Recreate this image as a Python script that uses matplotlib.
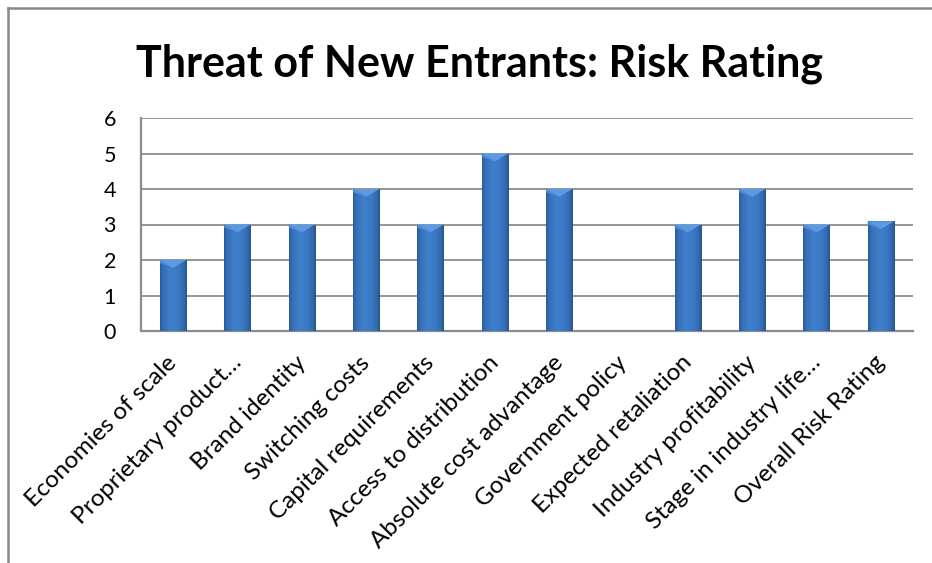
import numpy as np
import matplotlib
matplotlib.use("Agg")
import matplotlib.pyplot as plt
from matplotlib.patches import Polygon
from matplotlib.lines import Line2D
from matplotlib.colors import LinearSegmentedColormap
from matplotlib.transforms import ScaledTranslation

plt.rcParams['font.family'] = ['Lato', 'DejaVu Sans']

title = "Threat of New Entrants: Risk Rating"
categories = ["Economies of scale", "Proprietary product\u2026", "Brand identity",
              "Switching costs", "Capital requirements", "Access to distribution",
              "Absolute cost advantage", "Government policy", "Expected retaliation",
              "Industry profitability", "Stage in industry life\u2026", "Overall Risk Rating"]
values = [2, 3, 3, 4, 3, 5, 4, 0, 3, 4, 3, 3.09]
yticks = [0, 1, 2, 3, 4, 5, 6]

fig = plt.figure(figsize=(9.32, 5.63), dpi=100)
ax = fig.add_axes([141/932, 1 - 331/563, (913-141)/932, (331-118)/563])

x = np.arange(len(categories))
bw = 0.41
bars = ax.bar(x, values, width=bw, color="#3A74BE", zorder=2)

cmap = LinearSegmentedColormap.from_list("cyl", [
    (0.0, "#2B5B9C"), (0.12, "#3570B8"), (0.4, "#3F7FCB"),
    (0.7, "#3A78C3"), (0.9, "#3168AE"), (1.0, "#27548F")])
grad = np.linspace(0, 1, 64).reshape(1, -1)

ax.set_xlim(-0.5, len(categories) - 0.5)
ax.set_ylim(0, 6)

cap_h = 0.22
for b, v in zip(bars, values):
    if v <= 0:
        b.set_visible(False)
        continue
    x0, w, h = b.get_x(), b.get_width(), b.get_height()
    im = ax.imshow(grad, cmap=cmap, aspect="auto", extent=[x0, x0 + w, 0, h],
                   zorder=3, interpolation="bicubic")
    im.set_clip_path(b)
    tri = Polygon([[x0, h], [x0 + w, h], [x0 + w * 0.5, h - cap_h]],
                  closed=True, facecolor="#5C9BE3", edgecolor="none", zorder=4)
    ax.add_patch(tri)
    side = Polygon([[x0, h], [x0 + w * 0.5, h - cap_h], [x0, h - cap_h * 0.4]],
                   closed=True, facecolor="#4F8DD8", edgecolor="none", zorder=4)
    ax.add_patch(side)

ax.set_yticks(yticks)
ax.set_yticklabels([str(t) for t in yticks], fontsize=15.5)
ax.yaxis.grid(True, color="#8C8C8C", linewidth=1.3, zorder=1)
ax.set_axisbelow(True)
ax.tick_params(axis="y", length=0, pad=18)
ax.tick_params(axis="x", length=0, pad=15)
ax.set_xticks(x)
ax.set_xticklabels(categories, rotation=45, ha="right", va="top",
                   rotation_mode="anchor", fontsize=17.5)
shift = ScaledTranslation(-5/72, 0, fig.dpi_scale_trans)
for lbl in ax.get_xticklabels():
    lbl.set_transform(lbl.get_transform() + shift)
for s in ["top", "right"]:
    ax.spines[s].set_visible(False)
for s in ["left", "bottom"]:
    ax.spines[s].set_color("#8C8C8C")
    ax.spines[s].set_linewidth(1.6)

fig.text(0.515, 1 - 64/563, title, ha="center", va="center",
         fontsize=31, fontweight="bold")

fig.add_artist(Line2D([8/932, 8/932], [0, 1 - 8/563], transform=fig.transFigure,
                      color="#888888", linewidth=1.8))
fig.add_artist(Line2D([8/932, 1], [1 - 8/563, 1 - 8/563], transform=fig.transFigure,
                      color="#888888", linewidth=1.8))

fig.savefig("out.png", dpi=100)
